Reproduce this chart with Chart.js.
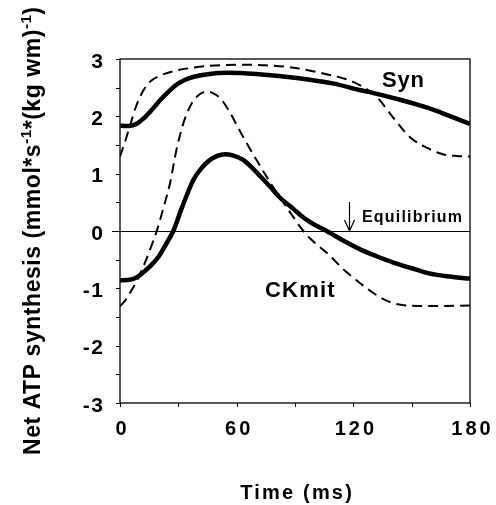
<!DOCTYPE html>
<html>
<head>
<meta charset="utf-8">
<script src="https://cdn.jsdelivr.net/npm/chart.js@4.4.1/dist/chart.umd.min.js"></script>
<style>
  html, body { margin: 0; padding: 0; background: #fff; }
  #wrap { width: 496px; height: 505px; position: relative; }
</style>
</head>
<body>
<div id="wrap"><canvas id="chart" width="496" height="505"></canvas></div>
<script>
// time points (ms) and net ATP synthesis values
const synTime = [0, 3, 6, 9, 12, 16, 20.6, 25, 29, 33, 38, 46, 55, 70, 91, 110, 123, 130, 145, 158, 170, 180];
const synValues = [1.84, 1.83, 1.84, 1.88, 1.96, 2.1, 2.28, 2.43, 2.55, 2.63, 2.69, 2.74, 2.76, 2.74, 2.67, 2.57, 2.46, 2.41, 2.28, 2.15, 2.0, 1.87];

const synDashTime = [0, 3, 5, 8, 12, 16, 20.6, 29, 38, 46, 60, 75, 91, 108, 116, 123, 132, 140, 149, 158, 166, 173, 180];
const synDashValues = [1.3, 1.6, 1.82, 2.15, 2.45, 2.62, 2.71, 2.8, 2.85, 2.88, 2.9, 2.89, 2.84, 2.72, 2.65, 2.55, 2.34, 2.0, 1.64, 1.45, 1.34, 1.31, 1.3];

const ckTime = [0, 5, 9, 12, 16, 20, 23.5, 27.4, 32, 37.7, 42, 46.3, 50, 54, 58, 63.4, 68, 72, 77, 82.3, 89, 94.3, 100, 106.3, 115, 123.5, 132, 140.6, 150, 157.8, 168, 180];
const ckValues = [-0.86, -0.85, -0.8, -0.72, -0.6, -0.44, -0.24, 0, 0.42, 0.89, 1.1, 1.24, 1.31, 1.34, 1.32, 1.24, 1.1, 0.96, 0.78, 0.58, 0.39, 0.235, 0.11, 0, -0.17, -0.32, -0.44, -0.55, -0.65, -0.73, -0.79, -0.83];

const ckDashTime = [0, 2.5, 5.1, 8.5, 12, 15.5, 18.9, 22.3, 25.7, 29, 32.6, 36, 39.4, 44.6, 48, 51.4, 56, 60, 64, 70, 77, 82.3, 87.4, 94.3, 100, 106.3, 115, 123.5, 132, 140.6, 148, 157.8, 180];
const ckDashValues = [-1.31, -1.22, -1.08, -0.88, -0.62, -0.32, 0, 0.4, 0.83, 1.41, 1.88, 2.17, 2.34, 2.43, 2.4, 2.32, 2.1, 1.85, 1.6, 1.25, 0.86, 0.58, 0.33, 0, -0.2, -0.38, -0.67, -0.91, -1.12, -1.26, -1.3, -1.31, -1.3];

const xTicks = [0, 60, 120, 180];
const yTicks = [-3, -2, -1, 0, 1, 2, 3];

//..zip x and y arrays into points
function toPoints(xs, ys) {
    return xs.map((x, i) => ({ x: x, y: ys[i] }));
}

function lineSet(xs, ys, width, dash) {
    return {
        data: toPoints(xs, ys),
        borderColor: '#000',
        borderWidth: width,
        borderDash: dash,
        pointRadius: 0,
        cubicInterpolationMode: 'monotone',
        fill: false
    };
}

const FONT = '"Liberation Sans", Arial, sans-serif';

//..draw text with letter spacing, align handled by hand
function spacedText(ctx, txt, x, y, spacing, align) {
    ctx.letterSpacing = spacing + 'px';
    const w = ctx.measureText(txt).width - spacing;
    let sx = x;
    if (align === 'center') sx = x - w / 2;
    if (align === 'right') sx = x - w;
    ctx.textAlign = 'left';
    ctx.fillText(txt, sx, y);
    ctx.letterSpacing = '0px';
}

// frame, ticks, zero line, labels and axis titles
const decorPlugin = {
    id: 'decor',
    beforeDatasetsDraw(chart) {
        const ctx = chart.ctx;
        const ys = chart.scales.y;
        const a = chart.chartArea;
        ctx.save();
        ctx.strokeStyle = '#000';
        ctx.lineWidth = 1;
        const y0 = Math.round(ys.getPixelForValue(0)) + 0.5;
        ctx.beginPath();
        ctx.moveTo(a.left - 8, y0);
        ctx.lineTo(a.right, y0);
        ctx.stroke();
        ctx.restore();
    },
    afterDraw(chart) {
        const ctx = chart.ctx;
        const xs = chart.scales.x, ys = chart.scales.y;
        const a = chart.chartArea;
        ctx.save();
        ctx.strokeStyle = '#000';
        ctx.lineWidth = 1.3;
        ctx.strokeRect(a.left, a.top, a.right - a.left, a.bottom - a.top);

        //..outer tick marks
        ctx.lineWidth = 1;
        ctx.beginPath();
        for (let v = -3; v <= 3; v += 0.5) {
            const py = Math.round(ys.getPixelForValue(v)) + 0.5;
            ctx.moveTo(a.left, py);
            ctx.lineTo(a.left - 4, py);
        }
        for (let t = 0; t <= 180; t += 30) {
            const px = Math.round(xs.getPixelForValue(t)) + 0.5;
            ctx.moveTo(px, a.bottom);
            ctx.lineTo(px, a.bottom + 4);
        }
        ctx.stroke();

        //..tick labels
        ctx.fillStyle = '#000';
        ctx.font = 'bold 21px ' + FONT;
        ctx.textBaseline = 'middle';
        yTicks.forEach(v => {
            spacedText(ctx, String(v), a.left - 17, ys.getPixelForValue(v) + 3, 1.5, 'right');
        });
        ctx.textBaseline = 'alphabetic';
        ctx.font = 'bold 20px ' + FONT;
        xTicks.forEach(t => {
            spacedText(ctx, String(t), xs.getPixelForValue(t) + 1, 435, 3, 'center');
        });

        //..x title
        ctx.font = 'bold 20px ' + FONT;
        spacedText(ctx, 'Time (ms)', 296, 499, 2.2, 'center');

        //..annotations
        ctx.font = 'bold 22px ' + FONT;
        spacedText(ctx, 'Syn', 382, 87, 0.8, 'left');
        spacedText(ctx, 'CKmit', 265, 297, 1.2, 'left');
        ctx.font = 'bold 16px ' + FONT;
        spacedText(ctx, 'Equilibrium', 362, 222, 1.2, 'left');

        //..equilibrium arrow
        const ax = Math.round(xs.getPixelForValue(118)) + 0.5;
        const tip = ys.getPixelForValue(0);
        ctx.lineWidth = 1.2;
        ctx.beginPath();
        ctx.moveTo(ax, 202);
        ctx.lineTo(ax, tip);
        ctx.moveTo(ax - 5, tip - 11);
        ctx.lineTo(ax, tip);
        ctx.lineTo(ax + 5, tip - 11);
        ctx.stroke();

        //..y title with superscripts, fitted to 448px
        ctx.translate(40, 231);
        ctx.rotate(-Math.PI / 2);
        const main = 'bold 23px ' + FONT;
        const sup = 'bold 15px ' + FONT;
        const parts = [
            ['Net ATP synthesis (mmol*s', main, 0],
            ['-1', sup, -9],
            ['*(kg wm)', main, 0],
            ['-1', sup, -9],
            [')', main, 0]
        ];
        let nChars = 0, natural = 0;
        parts.forEach(p => {
            ctx.font = p[1];
            natural += ctx.measureText(p[0]).width;
            nChars += p[0].length;
        });
        const ls = Math.max(0, (448 - natural) / (nChars - 1));
        let cx = -224;
        ctx.textAlign = 'left';
        ctx.textBaseline = 'alphabetic';
        ctx.letterSpacing = ls + 'px';
        parts.forEach(p => {
            ctx.font = p[1];
            ctx.fillText(p[0], cx, p[2]);
            cx += ctx.measureText(p[0]).width;
        });
        ctx.letterSpacing = '0px';
        ctx.restore();
    }
};

new Chart(document.getElementById('chart'), {
    type: 'line',
    data: {
        datasets: [
            lineSet(synTime, synValues, 4.5, []),
            lineSet(synDashTime, synDashValues, 2, [10, 6]),
            lineSet(ckTime, ckValues, 4.5, []),
            lineSet(ckDashTime, ckDashValues, 2, [10, 6])
        ]
    },
    options: {
        responsive: false,
        animation: false,
        layout: { padding: { left: 0, top: 59, right: 26, bottom: 0 } },
        plugins: { legend: { display: false }, tooltip: { enabled: false } },
        scales: {
            x: {
                type: 'linear', min: 0, max: 180,
                grid: { display: false },
                border: { display: false },
                ticks: { display: false },
                afterFit(scale) { scale.height = 102; }
            },
            y: {
                type: 'linear', min: -3, max: 3,
                grid: { display: false },
                border: { display: false },
                ticks: { display: false },
                afterFit(scale) { scale.width = 120; }
            }
        }
    },
    plugins: [decorPlugin]
});
</script>
</body>
</html>
